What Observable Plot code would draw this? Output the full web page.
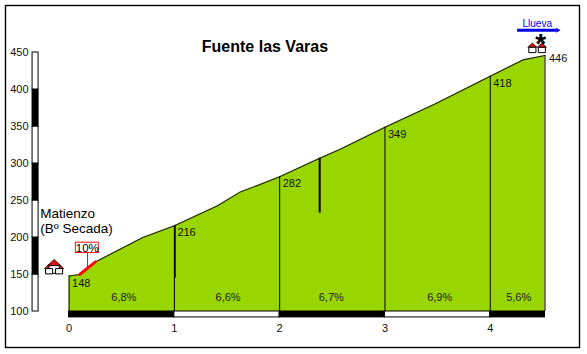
<!DOCTYPE html>
<html><head><meta charset="utf-8">
<script src="https://cdn.jsdelivr.net/npm/d3@7"></script>
<script src="https://cdn.jsdelivr.net/npm/@observablehq/plot@0.6"></script>
<style>html,body{margin:0;padding:0;background:#fff}svg{display:block}</style>
</head><body><div id="c"></div>
<script>
const profileKm  = [0, 0.1, 0.25, 0.7, 1, 1.41, 1.62, 2, 2.38, 2.57, 3, 3.47, 4, 4.31, 4.52];
const profileAlt = [148, 150, 167, 200, 216, 243, 261, 282, 307, 319, 349, 380, 418, 440, 446];
const kmMarks = [1, 2, 3, 4];
const markAlt = [216, 282, 349, 418];
const endKm = 4.52;
const peakLabels = ["148","216","282","349","418"];
const peakKm = [0, 1, 2, 3, 4];
const peakAlt = [148, 216, 282, 349, 418];
const gradeKm = [0.52, 1.51, 2.49, 3.52, 4.27];
const gradeLabels = ["6,8%","6,6%","6,7%","6,9%","5,6%"];
const kmBarStart = [0,1,2,3,4];
const kmBarEnd = [1,2,3,4,4.52];
const scaleStart = [100,150,200,250,300,350,400];
const scaleEnd = [150,200,250,300,350,400,450];
const yTicks = [100,150,200,250,300,350,400,450];
const xTicks = [0,1,2,3,4];
const black = "#000", green = "#99d600", red = "#f01010", blue = "#0000e6";

const idx = a => a.map((_, i) => i);
const house = { draw(c, s) { const r = Math.sqrt(s);
  c.moveTo(-r, 0); c.lineTo(r, 0); c.lineTo(r, r*1.5); c.lineTo(-r, r*1.5); c.closePath(); } };
const roof = { draw(c, s) { const r = Math.sqrt(s);
  c.moveTo(-r*1.3, 0); c.lineTo(0, -r*1.2); c.lineTo(r*1.3, 0); c.closePath(); } };

const houseKm = [-0.142, -0.19, -0.095, 4.40, 4.49];
const houseAlt = [162, 158, 158, 457, 457];
const houseR = [2.9, 2, 2, 2, 2];
const scaleX1 = -0.347, scaleX2 = -0.29;

const plot = Plot.plot({
  width: 587, height: 354,
  marginLeft: 5, marginTop: 5, marginRight: 8, marginBottom: 7,
  x: {domain: [0, 4.52], range: [68.6, 544.5], axis: null},
  y: {domain: [100, 450], range: [311, 52], axis: null},
  r: {type: "identity"},
  style: {fontFamily: "Liberation Sans, Arial, sans-serif", fontSize: "11px", background: "#fff"},
  marks: [
    Plot.frame({stroke: black, strokeWidth: 1.4}),
    Plot.areaY(idx(profileKm), {x: i => profileKm[i], y1: 100, y2: i => profileAlt[i], fill: green}),
    Plot.lineY(idx(profileKm), {x: i => profileKm[i], y: i => profileAlt[i], stroke: "#222", strokeWidth: 1.1}),
    Plot.ruleX([0], {y1: 100, y2: 148, stroke: black}),
    Plot.ruleX([endKm], {y1: 100, y2: 446, stroke: black}),
    Plot.ruleX(idx(kmMarks), {x: i => kmMarks[i], y1: 100, y2: i => markAlt[i], stroke: black, strokeWidth: 1}),
    Plot.ruleX([1.005], {y1: 145, y2: 216, stroke: black, strokeWidth: 1.6}),
    Plot.ruleX([2.38], {y1: 233, y2: 307, stroke: black, strokeWidth: 2}),
    // 10% steep stretch
    Plot.ruleX([0.175], {y1: 159, y2: 179, stroke: red, strokeWidth: 1}),
    Plot.lineY([0.1, 0.25], {x: d => d, y: d => d === 0.1 ? 150 : 167, stroke: red, strokeWidth: 3}),
    Plot.rect([0], {x1: 0.064, x2: 0.282, y1: 179, y2: 193, fill: "#fff", stroke: red, strokeWidth: 1}),
    Plot.text(["10%"], {x: 0.173, y: 186, fontSize: 11.5, fill: black}),
    // km bar
    Plot.rect(idx(kmBarStart), {x1: i => kmBarStart[i], x2: i => kmBarEnd[i], y1: 100, y2: 92,
      fill: i => i % 2 ? "#fff" : black, stroke: black}),
    // altitude bar
    Plot.rect(idx(scaleStart), {x1: scaleX1, x2: scaleX2, y1: i => scaleStart[i], y2: i => scaleEnd[i],
      fill: i => i % 2 ? black : "#fff", stroke: black}),
    // tick labels
    Plot.text(yTicks, {x: scaleX1, y: d => d, text: d => d, dx: -4, textAnchor: "end", fontSize: 11, fill: "#111"}),
    Plot.text(xTicks, {x: d => d, y: 77, text: d => d, dx: 0, fontSize: 11, fill: "#111"}),
    // labels
    Plot.text(idx(peakLabels), {x: i => peakKm[i], y: i => peakAlt[i], text: i => peakLabels[i], textAnchor: "start", dx: 3, dy: 7, fill: "#111"}),
    Plot.text(["446"], {x: endKm, y: 446, textAnchor: "start", dx: 4, dy: 3, fill: "#111"}),
    Plot.text(["Fuente las Varas"], {x: 1.86, y: 458, fontSize: 16, fontWeight: "bold", fill: black}),
    Plot.text(["Matienzo", "(Bº Secada)"], {x: -0.274, y: (d, i) => [232, 212][i], textAnchor: "start", fontSize: 13.5, fill: black}),
    Plot.text(gradeLabels, {x: (d, i) => gradeKm[i], y: 119, fontSize: 11, fill: "#222"}),
    // houses
    Plot.dot(idx(houseKm), {x: i => houseKm[i], y: i => houseAlt[i], symbol: roof, r: i => houseR[i], fill: "#e01010", stroke: black, strokeWidth: .7}),
    Plot.dot(idx(houseKm), {x: i => houseKm[i], y: i => houseAlt[i], symbol: house, r: i => houseR[i], fill: "#fff", stroke: black, strokeWidth: 1}),
    Plot.text(["*"], {x: 4.48, y: 461.5, fontSize: 28, fontWeight: "bold", fill: black}),
    Plot.text(["Llueva"], {x: 4.446, y: 489, fontSize: 10, fill: blue}),
    Plot.ruleY([480], {x1: 4.26, x2: 4.63, stroke: blue, strokeWidth: 3}),
    Plot.dot([0], {x: 4.64, y: 480, symbol: "triangle2", r: 2.4, rotate: 90, fill: blue})
  ]
});
document.getElementById("c").append(plot);
</script></body></html>
